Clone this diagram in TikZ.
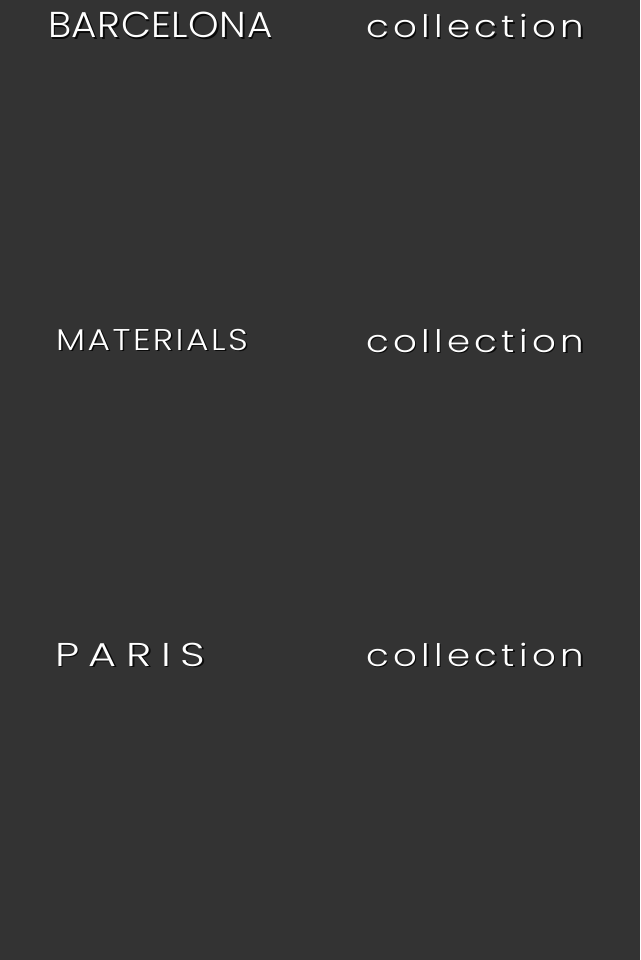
\documentclass[tikz,border=0pt]{standalone}
\usepackage{fontspec}
\setmainfont{Poppins Light}
\definecolor{bg}{HTML}{333333}
\tikzset{
  lbl/.style={anchor=base west, inner sep=0pt, text=white},
  shd/.style={anchor=base west, inner sep=0pt, text=black, opacity=0.8},
  barfont/.style={font=\fontsize{36}{36}\selectfont\addfontfeatures{FakeStretch=1.08,LetterSpace=1.5}},
  matfont/.style={font=\fontsize{30}{30}\selectfont\addfontfeatures{FakeStretch=1.15,LetterSpace=8.3}},
  parfont/.style={font=\fontsize{33}{33}\selectfont\addfontfeatures{FakeStretch=1.3,LetterSpace=29}},
  collfont/.style={font=\fontsize{31}{31}\selectfont\addfontfeatures{FakeStretch=1.2,LetterSpace=14}}
}
\begin{document}
\begin{tikzpicture}[x=1pt,y=-1pt]
\fill[bg] (0,0) rectangle (640,960);
\useasboundingbox (0,0) rectangle (640,960);
% shadows
\node[shd,barfont] at (49.5,39.5) {BARCELONA};
\node[shd,collfont] at (367.5,39.5) {collection};
\node[shd,matfont] at (57.5,351.5) {MATERIALS};
\node[shd,collfont] at (367.5,353.5) {collection};
\node[shd,parfont] at (56.5,667.5) {PARIS};
\node[shd,collfont] at (367.5,667.5) {collection};
% labels
\node[lbl,barfont] (barcelona) at (48,38) {BARCELONA};
\node[lbl,collfont] (coll1) at (366,38) {collection};
\node[lbl,matfont] (materials) at (56,350) {MATERIALS};
\node[lbl,collfont] (coll2) at (366,352) {collection};
\node[lbl,parfont] (paris) at (55,666) {PARIS};
\node[lbl,collfont] (coll3) at (366,666) {collection};
\end{tikzpicture}
\end{document}
